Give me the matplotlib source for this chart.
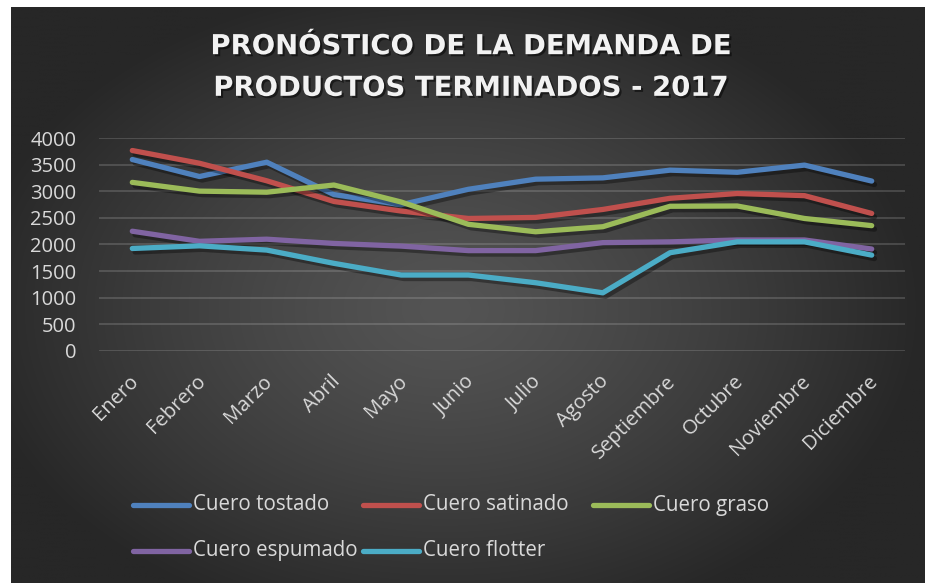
import numpy as np
import matplotlib
matplotlib.use('Agg')
import matplotlib.pyplot as plt
import matplotlib.patheffects as pe
import matplotlib.transforms as mtransforms
from matplotlib.lines import Line2D

MONTHS = ['Enero', 'Febrero', 'Marzo', 'Abril', 'Mayo', 'Junio', 'Julio',
          'Agosto', 'Septiembre', 'Octubre', 'Noviembre', 'Diciembre']

TOSTADO = [3600, 3280, 3550, 2940, 2750, 3040, 3230, 3255, 3400, 3360, 3495, 3195]
SATINADO = [3770, 3530, 3200, 2810, 2630, 2490, 2510, 2660, 2870, 2960, 2920, 2585]
GRASO = [3170, 3005, 2985, 3120, 2800, 2380, 2240, 2335, 2720, 2725, 2490, 2355]
ESPUMADO = [2250, 2060, 2100, 2020, 1970, 1885, 1885, 2035, 2050, 2085, 2085, 1915]
FLOTTER = [1925, 1975, 1895, 1645, 1425, 1425, 1280, 1090, 1845, 2050, 2050, 1800]

SERIES = [
    ('Cuero tostado', TOSTADO, '#4F81BD'),
    ('Cuero satinado', SATINADO, '#C0504D'),
    ('Cuero graso', GRASO, '#9BBB59'),
    ('Cuero espumado', ESPUMADO, '#8064A2'),
    ('Cuero flotter', FLOTTER, '#4BACC6'),
]

Y_TICKS = [0, 500, 1000, 1500, 2000, 2500, 3000, 3500, 4000]

TEXT_COLOR = '#d9d9d9'
W, H = 925, 583

plt.rcParams['font.family'] = ['Open Sans', 'DejaVu Sans']

fig = plt.figure(figsize=(W / 100, H / 100), dpi=100)
fig.patch.set_facecolor('white')

# dark radial gradient background (white strip on top and left)
bg = fig.add_axes([11 / W, 0, 1 - 11 / W, 1 - 7 / H], zorder=-10)
gx, gy = np.meshgrid(np.linspace(-1, 1, 400), np.linspace(-1, 1, 260))
r = np.sqrt(((gx + 0.05) / 1.05) ** 2 + ((gy - 0.05) / 1.15) ** 2)
r = np.clip(r, 0, 1)
shade = (0x54 - (0x54 - 0x27) * r ** 1.3) / 255.0
bg.imshow(np.dstack([shade, shade, shade]), aspect='auto', extent=[0, 1, 0, 1],
          interpolation='bilinear')
bg.axis('off')

# plot area in pixel coordinates
left, right, top, bottom = 98.7, 905.3, 138.3, 350.7
ax = fig.add_axes([left / W, 1 - bottom / H, (right - left) / W, (bottom - top) / H])
ax.set_facecolor('none')

x = np.arange(len(MONTHS))
for name, vals, color in SERIES:
    ax.plot(x, vals, color=color, lw=3.8, solid_capstyle='round',
            solid_joinstyle='round', zorder=3,
            path_effects=[pe.SimpleLineShadow(offset=(2, -2.5), shadow_color='black', alpha=0.35),
                          pe.Normal()])

ax.set_xlim(-0.5, len(MONTHS) - 0.5)
ax.set_ylim(0, 4000)
ax.set_yticks(Y_TICKS)
ax.set_yticklabels([str(v) for v in Y_TICKS])
ax.set_xticks(x)
ax.set_xticklabels(MONTHS, rotation=45, ha='right', va='top', rotation_mode='anchor')
ax.tick_params(axis='both', length=0, colors=TEXT_COLOR, labelsize=14.5)
ax.tick_params(axis='y', pad=16)
ax.tick_params(axis='x', pad=15)
shift = mtransforms.ScaledTranslation(-3 / 72, 0, fig.dpi_scale_trans)
for lbl in ax.get_xticklabels():
    lbl.set_transform(lbl.get_transform() + shift)
ax.grid(axis='y', color='#d9d9d9', alpha=0.22, lw=1.2)
ax.set_axisbelow(True)
for s in ax.spines.values():
    s.set_visible(False)

# title
fig.text(471 / W, 1 - 67 / H, 'PRONÓSTICO DE LA DEMANDA DE\nPRODUCTOS TERMINADOS - 2017',
         ha='center', va='center', color='#f2f2f2', fontsize=19.8, fontweight='bold',
         family='DejaVu Sans', linespacing=1.62,
         path_effects=[pe.withSimplePatchShadow(offset=(1.5, -1.5), shadow_rgbFace='black', alpha=0.5)])

# legend, laid out like Excel: three fixed-width columns, row-major
for i, (name, vals, color) in enumerate(SERIES):
    row, col = divmod(i, 3)
    x0 = 133 + col * 230
    y0 = 505 + row * 45.5
    fig.add_artist(Line2D([x0 / W, (x0 + 56) / W], [1 - y0 / H, 1 - y0 / H],
                          color=color, lw=3.8, solid_capstyle='round'))
    fig.text((x0 + 60) / W, 1 - y0 / H, name, ha='left', va='center',
             color=TEXT_COLOR, fontsize=14.8)

fig.savefig('out.png', dpi=100, facecolor=fig.get_facecolor())
